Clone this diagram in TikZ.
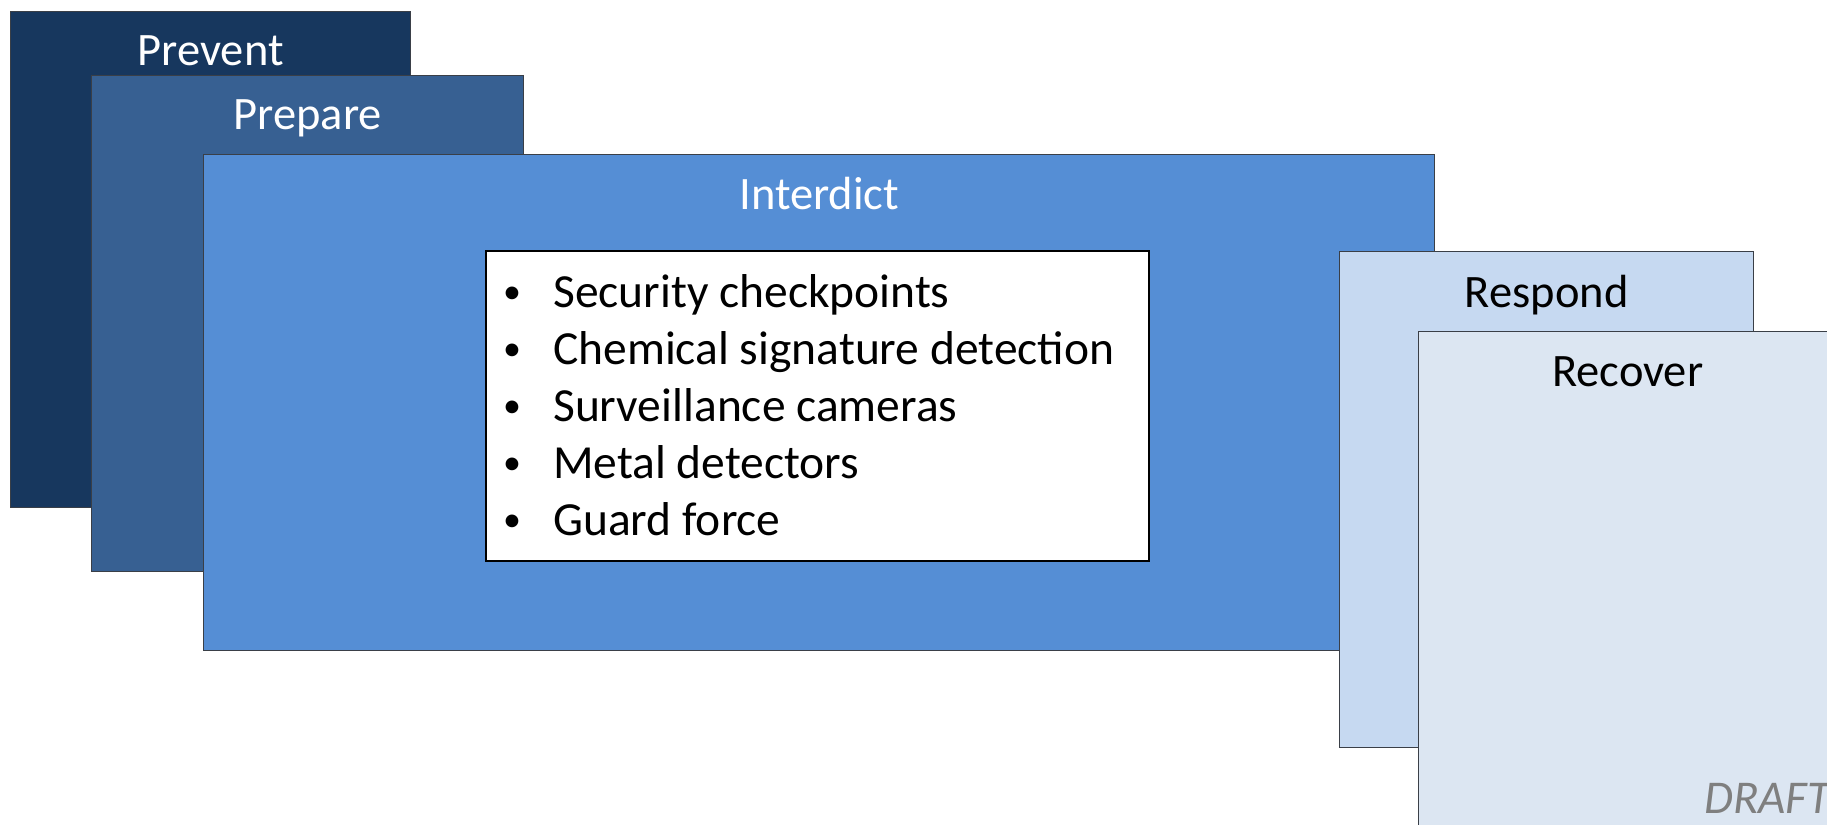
\documentclass[tikz,border=0pt]{standalone}
\usepackage{fontspec}
\setmainfont{Carlito}
\usetikzlibrary{calc}
\definecolor{preventc}{HTML}{17375E}
\definecolor{preparec}{HTML}{376092}
\definecolor{interdictc}{HTML}{558ED5}
\definecolor{respondc}{HTML}{C6D9F1}
\definecolor{recoverc}{HTML}{DCE6F2}
\definecolor{edgec}{HTML}{3A3F47}
\definecolor{draftc}{HTML}{7F7F7F}
\begin{document}
\begin{tikzpicture}[x=1pt,y=-1pt,
  phase/.style={draw=edgec, line width=1.4pt, inner sep=0pt, anchor=north west},
  title/.style={font=\fontsize{46.5}{57}\selectfont, anchor=base, inner sep=0pt},
  item/.style={font=\fontsize{47.5}{57}\selectfont, anchor=base west, inner sep=0pt},
  bul/.style={font=\fontsize{36}{57}\selectfont, anchor=base, inner sep=0pt}]
\useasboundingbox (0,0) rectangle (1827,824);
\clip (0,0) rectangle (1827,824);

\node[phase, fill=preventc, minimum width=400pt, minimum height=496pt] (prevent) at (10,11) {};
\node[title, text=white] (preventlbl) at ($(prevent.north)+(0,55)$) {Prevent};

\node[phase, fill=preparec, minimum width=432pt, minimum height=496pt] (prepare) at (91,75) {};
\node[title, text=white] (preparelbl) at ($(prepare.north)+(0,55)$) {Prepare};

\node[phase, fill=interdictc, minimum width=1231pt, minimum height=496pt] (interdict) at (203,154) {};
\node[title, text=white] (interdictlbl) at ($(interdict.north)+(0,55)$) {Interdict};

\node[phase, draw=black, line width=1.8pt, fill=white, minimum width=663pt, minimum height=310pt] (list) at (485,250) {};
\foreach \t [count=\i] in {Security checkpoints, Chemical signature detection, Surveillance cameras, Metal detectors, Guard force}{
  \node[bul] (bullet\i) at ($(list.north west)+(27,53+57*\i-57)$) {•};
  \node[item] (item\i) at ($(list.north west)+(68,57+57*\i-57)$) {\t};
}

\node[phase, fill=respondc, minimum width=414pt, minimum height=496pt] (respond) at (1339,251) {};
\node[title, text=black] (respondlbl) at ($(respond.north)+(0,56)$) {Respond};

\node[phase, fill=recoverc, minimum width=418pt, minimum height=600pt] (recover) at (1418,331) {};
\node[title, text=black] (recoverlbl) at ($(recover.north)+(0,55)$) {Recover};

\node[font=\fontsize{47}{52}\selectfont\itshape, text=draftc, anchor=base west, inner sep=0pt] (draft) at (1704,813) {DRAFT};
\end{tikzpicture}
\end{document}
